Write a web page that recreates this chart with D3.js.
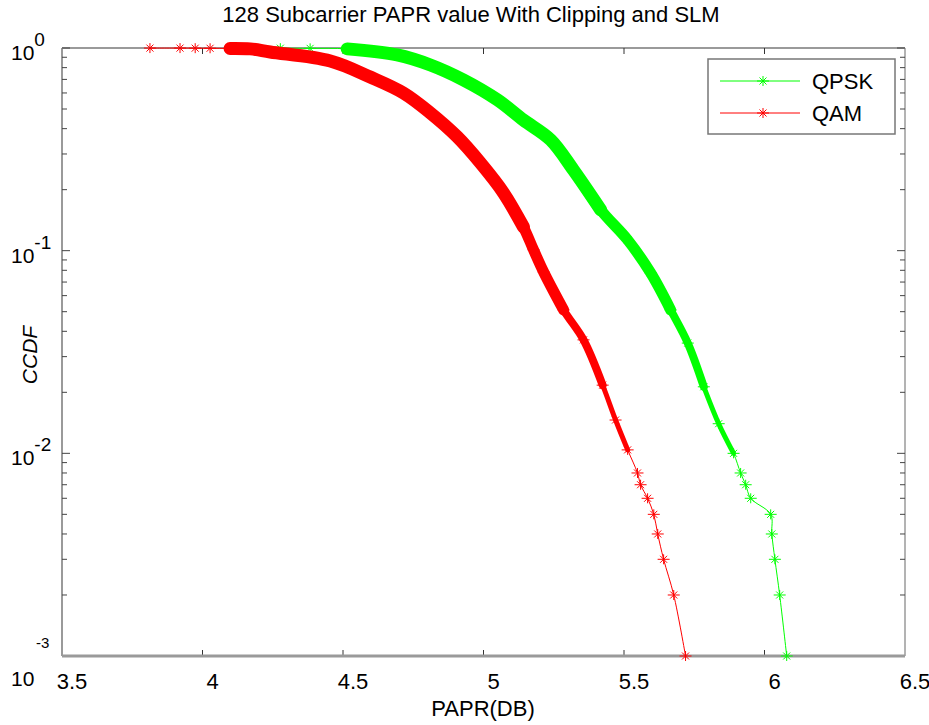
<!DOCTYPE html>
<html>
<head>
<meta charset="utf-8">
<script src="https://cdn.jsdelivr.net/npm/d3@7"></script>
<style>
  body { margin: 0; background: #fff; }
  svg { display: block; font-family: Arial, "Liberation Sans", sans-serif; }
</style>
</head>
<body>
<div id="chart"></div>
<script>
// values
const qpskPapr = [4.18, 4.277, 4.383, 4.515, 4.693, 4.811, 4.929, 5.05, 5.142, 5.239, 5.32, 5.417, 5.513, 5.595, 5.666, 5.727, 5.784, 5.837, 5.89, 5.915, 5.933, 5.951, 6.022, 6.026, 6.037, 6.054, 6.079];
const qpskCcdf = [0.999, 0.998, 0.996, 0.99, 0.924, 0.824, 0.695, 0.554, 0.441, 0.352, 0.25, 0.159, 0.113, 0.0776, 0.051, 0.035, 0.0213, 0.014, 0.01, 0.008, 0.007, 0.006, 0.005, 0.004, 0.003, 0.002, 0.001];

const qamPapr = [3.813, 3.92, 3.974, 4.027, 4.098, 4.17, 4.241, 4.455, 4.597, 4.715, 4.811, 4.907, 4.989, 5.071, 5.142, 5.178, 5.214, 5.285, 5.356, 5.424, 5.47, 5.513, 5.548, 5.559, 5.584, 5.606, 5.62, 5.641, 5.677, 5.719];
const qamCcdf = [0.999, 0.999, 0.998, 0.997, 0.995, 0.99, 0.956, 0.863, 0.719, 0.6, 0.478, 0.364, 0.271, 0.193, 0.131, 0.101, 0.0785, 0.051, 0.0363, 0.0217, 0.0146, 0.0104, 0.008, 0.007, 0.006, 0.005, 0.004, 0.003, 0.002, 0.001];

const seriesNames = ["QPSK", "QAM"];
const seriesColors = ["#00ff00", "#ff0000"];
const xTicks = [3.5, 4, 4.5, 5, 5.5, 6, 6.5];
const yTicks = [1, 0.1, 0.01, 0.001];

const width = 929;
const height = 725;

const series = [
  { name: seriesNames[0], color: seriesColors[0], pts: qpskPapr.map((v, i) => ({ x: v, y: qpskCcdf[i] })) },
  { name: seriesNames[1], color: seriesColors[1], pts: qamPapr.map((v, i) => ({ x: v, y: qamCcdf[i] })) },
];

const svg = d3.select("#chart").append("svg")
  .attr("width", width)
  .attr("height", height);

const x = d3.scaleLinear().domain([3.5, 6.5]).range([62, 905]);
const y = d3.scaleLog().domain([0.001, 1]).range([656, 48]);

// frame
const frame = svg.append("g").attr("stroke", "#9a9a9a").attr("fill", "none");
frame.append("line").attr("x1", 62).attr("x2", 905).attr("y1", 48).attr("y2", 48).attr("stroke-width", 2);
frame.append("line").attr("x1", 62).attr("x2", 62).attr("y1", 48).attr("y2", 656).attr("stroke-width", 2);
frame.append("line").attr("x1", 905).attr("x2", 905).attr("y1", 48).attr("y2", 656).attr("stroke-width", 1.5);

// x ticks (bottom + top), labels
const xt = svg.append("g").attr("stroke", "#333");
xTicks.slice(1, -1).forEach(t => {
  xt.append("line").attr("x1", x(t)).attr("x2", x(t)).attr("y1", 656).attr("y2", 650);
  xt.append("line").attr("x1", x(t)).attr("x2", x(t)).attr("y1", 48).attr("y2", 54);
});
svg.append("g").selectAll("text").data(xTicks).join("text")
  .attr("x", d => x(d) + 10)
  .attr("y", 689)
  .attr("text-anchor", "middle")
  .attr("font-size", 22)
  .text(d => d);

// y minor/major ticks on both sides
const minor = [];
for (let e = -3; e < 0; e++) {
  for (let k = 1; k < 10; k++) minor.push(k * Math.pow(10, e));
}
minor.push(1);
const yt = svg.append("g").attr("stroke", "#444");
minor.forEach(v => {
  const len = yTicks.includes(+v.toPrecision(3)) ? 8 : 5;
  yt.append("line").attr("x1", 62).attr("x2", 62 + len).attr("y1", y(v)).attr("y2", y(v));
  yt.append("line").attr("x1", 905).attr("x2", 905 - len).attr("y1", y(v)).attr("y2", y(v));
});

// y labels 10^n
const yl = svg.append("g").attr("font-size", 21);
yTicks.slice(0, 3).forEach(v => {
  const e = Math.round(Math.log10(v));
  const t = yl.append("text").attr("x", 11).attr("y", y(v) + 12);
  t.append("tspan").text("10");
  t.append("tspan").attr("dy", -14).attr("font-size", 19).text(e === 0 ? "0" : e);
});
// bottom label drawn split, as in the picture
yl.append("text").attr("x", 36).attr("y", y(0.001) - 8).attr("font-size", 15).text("-3");
yl.append("text").attr("x", 11).attr("y", y(0.001) + 30).text("10");

// bottom axis line
svg.append("line").attr("x1", 62).attr("x2", 905).attr("y1", 656).attr("y2", 656)
  .attr("stroke", "#9a9a9a").attr("stroke-width", 3);

// curves
const line = d3.line().x(d => x(d.x)).y(d => y(d.y)).curve(d3.curveCatmullRom);
const star = "M-6,0H6M0,-5V5M-3.5,-3.5L3.5,3.5M-3.5,3.5L3.5,-3.5";
// thickness of the dense (overlapping markers) band by ccdf level
const bands = [[0.0095, 5], [0.02, 8], [0.045, 11], [0.12, 13]];

const plot = svg.append("g");
series.forEach(s => {
  const g = plot.append("g");
  bands.forEach(([lo, w]) => {
    const part = s.pts.filter(d => d.y >= lo && d.y <= 0.995);
    g.append("path")
      .attr("d", line(part))
      .attr("stroke", s.color)
      .attr("stroke-width", w)
      .attr("stroke-linecap", "round")
      .attr("stroke-linejoin", "round")
      .attr("fill", "none");
  });
  g.append("path")
    .attr("d", line(s.pts))
    .attr("stroke", s.color)
    .attr("stroke-width", 1)
    .attr("fill", "none");
  g.selectAll("path.m").data(s.pts).join("path")
    .attr("class", "m")
    .attr("transform", d => `translate(${x(d.x)},${y(d.y)})`)
    .attr("d", star)
    .attr("stroke", s.color)
    .attr("stroke-width", 1)
    .attr("fill", "none");
});

// legend
const lg = svg.append("g");
lg.append("rect").attr("x", 708).attr("y", 59).attr("width", 187).attr("height", 75)
  .attr("fill", "#fff").attr("stroke", "#777").attr("stroke-width", 1.5);
series.forEach((s, i) => {
  const ly = 81 + i * 32;
  lg.append("line").attr("x1", 720).attr("x2", 800).attr("y1", ly).attr("y2", ly)
    .attr("stroke", s.color).attr("stroke-width", 1);
  lg.append("path").attr("transform", `translate(763,${ly})`).attr("d", star)
    .attr("stroke", s.color).attr("fill", "none");
  lg.append("text").attr("x", 812).attr("y", ly + 8).attr("font-size", 22).text(s.name);
});

// titles
svg.append("text").attr("x", 471).attr("y", 22).attr("text-anchor", "middle")
  .attr("font-size", 22).text("128 Subcarrier PAPR value With Clipping and SLM");
svg.append("text").attr("x", 483).attr("y", 716).attr("text-anchor", "middle")
  .attr("font-size", 22).text("PAPR(DB)");
svg.append("text").attr("transform", "translate(37,355) rotate(-90)")
  .attr("text-anchor", "middle").attr("font-size", 21).attr("font-style", "italic").text("CCDF");
</script>
</body>
</html>
